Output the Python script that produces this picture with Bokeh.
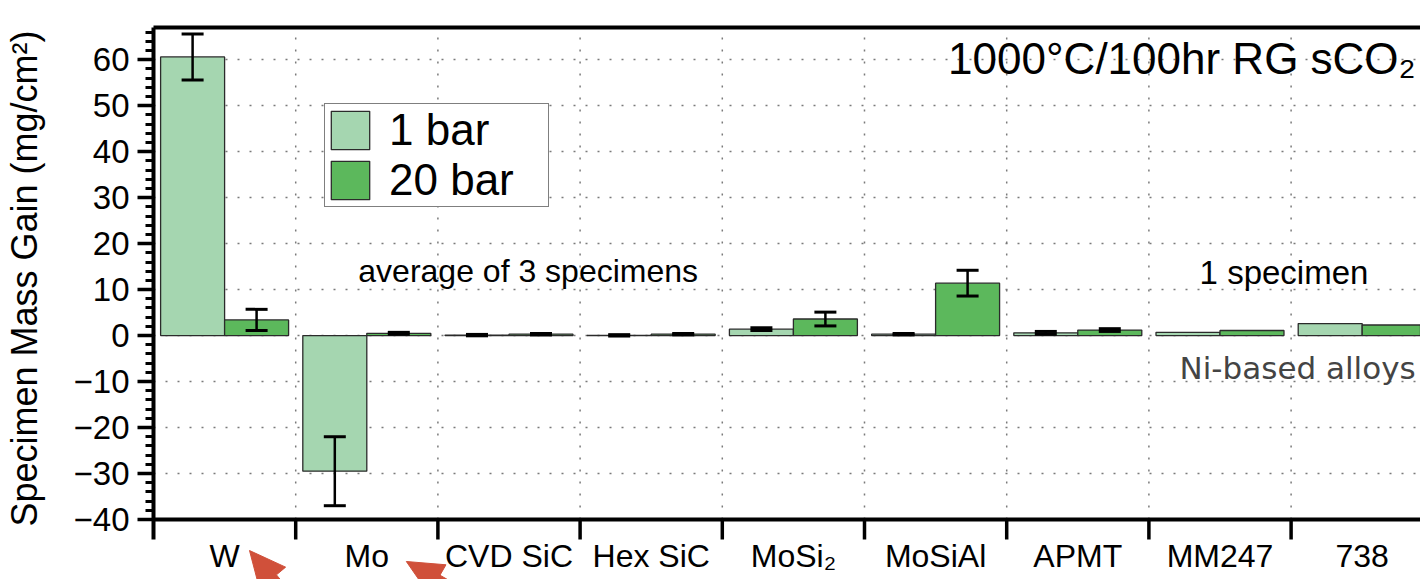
import numpy as np
from bokeh.plotting import figure
from bokeh.models import (Range1d, FixedTicker, LinearAxis, Legend, LegendItem,
                          Whisker, TeeHead, ColumnDataSource, Label, Span)
from bokeh.core.properties import value
from bokeh.embed import file_html
from bokeh.resources import INLINE

# ---- data -------------------------------------------------------------
materials = ["W", "Mo", "CVD SiC", "Hex SiC", "MoSi\u2082", "MoSiAl", "APMT", "MM247", "738"]
gain_1bar = [60.6, -29.5, 0.1, 0.05, 1.4, 0.3, 0.6, 0.7, 2.6]
err_1bar = [5.0, 7.5, 0.15, 0.15, 0.3, 0.15, 0.3, None, None]
gain_20bar = [3.4, 0.5, 0.3, 0.3, 3.6, 11.4, 1.2, 1.1, 2.3]
err_20bar = [2.3, 0.2, 0.15, 0.15, 1.5, 2.8, 0.3, None, None]
y_major = list(range(-40, 61, 10))
y_minor = list(range(-40, 67, 2))

FONT = "Liberation Sans"
LIGHT = "#a5d6b0"
DARK = "#5cb85c"
RED = "#d0503a"
GRID = "#7a7a7a"

n = len(materials)
idx = np.arange(n)
x_1bar = idx + 0.275
x_20bar = idx + 0.725

# canvas geometry: the plotting frame runs to the bottom of the canvas so the
# category axis (drawn by hand) and the pointer arrows below it stay visible
W, H = 1420, 579
B_LEFT, B_TOP = 152, 27
AXIS_PX = 519                      # pixel row of the y = -40 baseline
X_END, Y_MIN, Y_TOP = 8.91, -40, 67
px_x = (W - B_LEFT) / X_END
px_y = (AXIS_PX - B_TOP) / (Y_TOP - Y_MIN)
Y_BOTTOM = Y_MIN - (H - AXIS_PX) / px_y
TICK_LEN = 20 / px_y
LABEL_Y = Y_MIN - 36 / px_y

p = figure(width=W, height=H, output_backend="svg", toolbar_location=None,
           x_range=Range1d(0, X_END), y_range=Range1d(Y_BOTTOM, Y_TOP),
           x_axis_type=None,
           min_border_left=B_LEFT, min_border_right=0, min_border_top=B_TOP,
           min_border_bottom=0)
p.outline_line_color = None
p.background_fill_color = "white"
p.border_fill_color = "white"

# ---- vertical dotted grid at category boundaries ----------------------
bounds = list(range(0, n + 1))
p.segment(x0=bounds[1:-1], y0=Y_MIN, x1=bounds[1:-1], y1=Y_TOP,
          line_color=GRID, line_width=1.5, line_dash="2 10")

# ---- bars -------------------------------------------------------------
src1 = ColumnDataSource(dict(x=x_1bar, top=gain_1bar))
src20 = ColumnDataSource(dict(x=x_20bar, top=gain_20bar))
r1 = p.vbar(x="x", top="top", bottom=0, width=0.45, source=src1,
            fill_color=LIGHT, line_color="#2b2b2b", line_width=1.3)
r20 = p.vbar(x="x", top="top", bottom=0, width=0.45, source=src20,
             fill_color=DARK, line_color="#2b2b2b", line_width=1.3)

# ---- error bars (only where several specimens were averaged) -----------
def whisker_source(xs, vals, errs):
    keep = [i for i, e in enumerate(errs) if e is not None]
    return ColumnDataSource(dict(
        x=[xs[i] for i in keep],
        lower=[vals[i] - errs[i] for i in keep],
        upper=[vals[i] + errs[i] for i in keep]))

for xs, vals, errs in ((x_1bar, gain_1bar, err_1bar), (x_20bar, gain_20bar, err_20bar)):
    w = Whisker(base="x", lower="lower", upper="upper",
                source=whisker_source(list(xs), vals, errs),
                line_color="black", line_width=2.5, level="annotation",
                upper_head=TeeHead(size=22, line_width=3, line_color="black"),
                lower_head=TeeHead(size=22, line_width=3, line_color="black"))
    p.add_layout(w)

# ---- category axis: baseline, boundary ticks and names ----------------
p.add_layout(Span(location=Y_MIN, dimension="width", line_color="black",
                  line_width=4))
p.segment(x0=bounds[1:], y0=Y_MIN, x1=bounds[1:], y1=Y_MIN - TICK_LEN,
          line_color="black", line_width=3.5)
p.text(x=idx + 0.5, y=[LABEL_Y] * n, text=materials,
       text_font=value(FONT), text_font_size="32px", text_color="black",
       text_align="center", text_baseline="middle")

# ---- value axis -------------------------------------------------------
ya = p.yaxis[0]
ya.bounds = (Y_MIN - TICK_LEN, Y_TOP)
ya.ticker = FixedTicker(ticks=y_major, minor_ticks=y_minor)
ya.major_label_overrides = {t: (("\u2212" + str(-t)) if t < 0 else str(t)) for t in y_major}
ya.major_tick_out = 16
ya.major_tick_in = 0
ya.minor_tick_out = 8
ya.minor_tick_in = 0
ya.major_tick_line_width = 3.5
ya.minor_tick_line_width = 3
ya.axis_line_width = 4
ya.axis_line_color = "black"
ya.major_label_text_font = FONT
ya.major_label_text_font_size = "33px"
ya.major_label_text_color = "black"
ya.major_label_standoff = 8
# the axis title is centred on the whole frame, which runs below the
# baseline; leading no-break spaces lift it back over the value range
ya.axis_label = "\u00a0" * 5 + "Specimen Mass Gain (mg/cm\u00b2)"
ya.axis_label_text_font = FONT
ya.axis_label_text_font_size = "36px"
ya.axis_label_text_font_style = "normal"
ya.axis_label_text_color = "black"
ya.axis_label_standoff = 26

p.ygrid.ticker = FixedTicker(ticks=[t for t in y_major if t > Y_MIN])
p.ygrid.grid_line_color = GRID
p.ygrid.grid_line_dash = "2 10"
p.ygrid.grid_line_width = 1.5

top_axis = LinearAxis(ticker=FixedTicker(ticks=[]), axis_line_width=4,
                      axis_line_color="black", major_tick_line_color=None,
                      minor_tick_line_color=None)
p.add_layout(top_axis, "above")

# ---- legend -----------------------------------------------------------
legend = Legend(items=[LegendItem(label="1 bar", renderers=[r1]),
                       LegendItem(label="20 bar", renderers=[r20])],
                location=(171, 372), margin=0, padding=1, spacing=-10,
                glyph_width=48, glyph_height=48, label_standoff=15,
                label_width=158,
                label_text_font=FONT, label_text_font_size="44px",
                label_text_color="black",
                border_line_color="black", border_line_width=1.5,
                background_fill_color="white", background_fill_alpha=1.0)
p.add_layout(legend, "center")

# ---- annotations ------------------------------------------------------
p.add_layout(Label(x=8.876, y=60.3, text="1000\u00b0C/100hr RG sCO\u2082",
                   text_font=FONT, text_font_size="44px", text_align="right",
                   text_baseline="middle", text_color="black"))
p.add_layout(Label(x=2.635, y=14.1, text="average of 3 specimens",
                   text_font=FONT, text_font_size="32px", text_align="center",
                   text_baseline="middle", text_color="black"))
p.add_layout(Label(x=7.95, y=13.7, text="1 specimen",
                   text_font=FONT, text_font_size="33px", text_align="center",
                   text_baseline="middle", text_color="black"))
p.add_layout(Label(x=8.876, y=-7.0, text="Ni-based alloys",
                   text_font="DejaVu Sans", text_font_size="31px", text_align="right",
                   text_baseline="middle", text_color="#444444"))

# ---- pointer arrows under the W and Mo names ---------------------------
def arrow_shape(tip_x, tip_y, angle_deg, head_len=36, head_half=17,
                shaft_half=5, shaft_len=80):
    a = np.radians(angle_deg)
    d = np.array([np.cos(a), -np.sin(a)])      # tip -> tail, y up
    nrm = np.array([-d[1], d[0]])
    pts = [np.zeros(2),
           d * head_len + nrm * head_half,
           d * head_len + nrm * shaft_half,
           d * (head_len + shaft_len) + nrm * shaft_half,
           d * (head_len + shaft_len) - nrm * shaft_half,
           d * head_len - nrm * shaft_half,
           d * head_len - nrm * head_half]
    return ([tip_x + q[0] / px_x for q in pts],
            [tip_y + q[1] / px_y for q in pts])

arrow_tips = [(0.675, Y_MIN - 31 / px_y, 50), (1.778, Y_MIN - 42 / px_y, 30)]
shapes = [arrow_shape(tx, ty, ang) for tx, ty, ang in arrow_tips]
p.patches(xs=[s[0] for s in shapes], ys=[s[1] for s in shapes],
          fill_color=RED, line_color=RED, line_width=1)

open("out.html", "w").write(file_html(p, INLINE))
